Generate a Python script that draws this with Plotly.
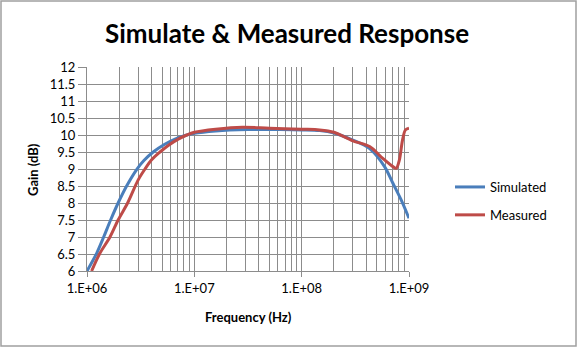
import plotly.graph_objects as go

# Simulated response
sim_freq = [1.0e6, 1.23e6, 1.43e6, 1.66e6, 1.95e6, 2.34e6, 2.88e6, 3.39e6, 4.14e6, 5.25e6,
            6.61e6, 7.94e6, 1.0e7, 1.58e7, 3.16e7, 6.31e7, 1.0e8, 1.47e8, 2.0e8, 3.0e8,
            4.3e8, 5.92e8, 7.08e8, 8.45e8, 1.0e9]
sim_gain = [6.0, 6.52, 7.0, 7.5, 8.0, 8.5, 8.97, 9.25, 9.5, 9.72,
            9.88, 9.97, 10.05, 10.12, 10.16, 10.16, 10.15, 10.13, 10.06, 9.85,
            9.6, 9.07, 8.58, 8.09, 7.55]

# Measured response
meas_freq = [1.104e6, 1.318e6, 1.637e6, 1.95e6, 2.39e6, 3.0e6, 3.47e6, 4.0e6, 4.79e6, 5.75e6,
             7.08e6, 8.5e6, 1.0e7, 1.58e7, 2.8e7, 5.0e7, 1.0e8, 1.47e8, 2.0e8, 3.0e8,
             4.3e8, 5.7e8, 7.08e8, 7.6e8, 8.13e8, 8.7e8, 9.27e8, 1.0e9]
meas_gain = [6.0, 6.52, 7.0, 7.5, 8.0, 8.68, 9.0, 9.27, 9.5, 9.7,
             9.88, 10.0, 10.08, 10.17, 10.23, 10.2, 10.17, 10.15, 10.08, 9.83,
             9.66, 9.31, 9.07, 9.02, 9.26, 9.85, 10.15, 10.2]

x_major = [1e6, 1e7, 1e8, 1e9]
x_major_text = ["1.E+06", "1.E+07", "1.E+08", "1.E+09"]
x_minor = [m * d for d in [1e6, 1e7, 1e8] for m in range(2, 10)]
y_ticks = [6 + 0.5 * i for i in range(13)]
y_ticktext = [("%g" % v) for v in y_ticks]

FONT = "Lato, 'Open Sans', sans-serif"
GRID = "#8c8c8c"

fig = go.Figure()
fig.add_trace(go.Scatter(x=sim_freq, y=sim_gain, mode="lines", name="Simulated",
                         line=dict(color="#4a7ebb", width=3, shape="spline", smoothing=0.9),
                         legendgroup="a"))
fig.add_trace(go.Scatter(x=meas_freq, y=meas_gain, mode="lines", name="Measured",
                         line=dict(color="#be4b48", width=3, shape="spline", smoothing=0.9),
                         legendgroup="b"))

L, R, T, B = 87, 168, 67, 76
W, H = 577, 347
pw, ph = W - L - R, H - T - B

fig.update_layout(
    width=W, height=H,
    margin=dict(l=L, r=R, t=T, b=B),
    paper_bgcolor="white", plot_bgcolor="white",
    font=dict(family=FONT, color="#000000", size=13),
    showlegend=True,
    legend=dict(x=(450 - L) / pw, y=(271 - 172) / ph, xanchor="left", yanchor="top",
                font=dict(size=13), tracegroupgap=8, bgcolor="rgba(0,0,0,0)"),
    xaxis=dict(type="log", range=[6, 9], tickvals=x_major, ticktext=x_major_text,
               ticks="outside", ticklen=5, tickcolor=GRID,
               showgrid=True, gridcolor=GRID, gridwidth=1,
               showline=True, linecolor=GRID, linewidth=1, mirror=False,
               minor=dict(tickvals=x_minor, showgrid=True, gridcolor=GRID, gridwidth=1, ticks=""),
               tickfont=dict(size=13), zeroline=False),
    yaxis=dict(range=[6, 12], tickvals=y_ticks, ticktext=y_ticktext,
               ticks="outside", ticklen=8, tickcolor=GRID,
               showgrid=True, gridcolor=GRID, gridwidth=1,
               showline=True, linecolor=GRID, linewidth=1,
               tickfont=dict(size=13), zeroline=False),
)

fig.add_annotation(text="<b>Simulate &amp; Measured Response</b>", xref="paper", yref="paper",
                   x=(287 - L) / pw, y=(271 - 33) / ph, showarrow=False,
                   font=dict(size=26, family=FONT), xanchor="center", yanchor="middle")
fig.add_annotation(text="<b>Frequency (Hz)</b>", xref="paper", yref="paper",
                   x=0.5, y=(271 - 317) / ph, showarrow=False,
                   font=dict(size=13, family=FONT), xanchor="center", yanchor="middle")
fig.add_annotation(text="<b>Gain (dB)</b>", xref="paper", yref="paper",
                   x=(33 - L) / pw, y=0.5, showarrow=False, textangle=-90,
                   font=dict(size=13, family=FONT), xanchor="center", yanchor="middle")

# outer chart border
fig.add_shape(type="rect", xref="paper", yref="paper",
              x0=(1 - L) / pw, x1=(W - 1 - L) / pw, y0=(271 - (H - 1)) / ph, y1=(271 - 1) / ph,
              line=dict(color="#a0a0a0", width=1.5), layer="below")

fig.write_html("out.html")
